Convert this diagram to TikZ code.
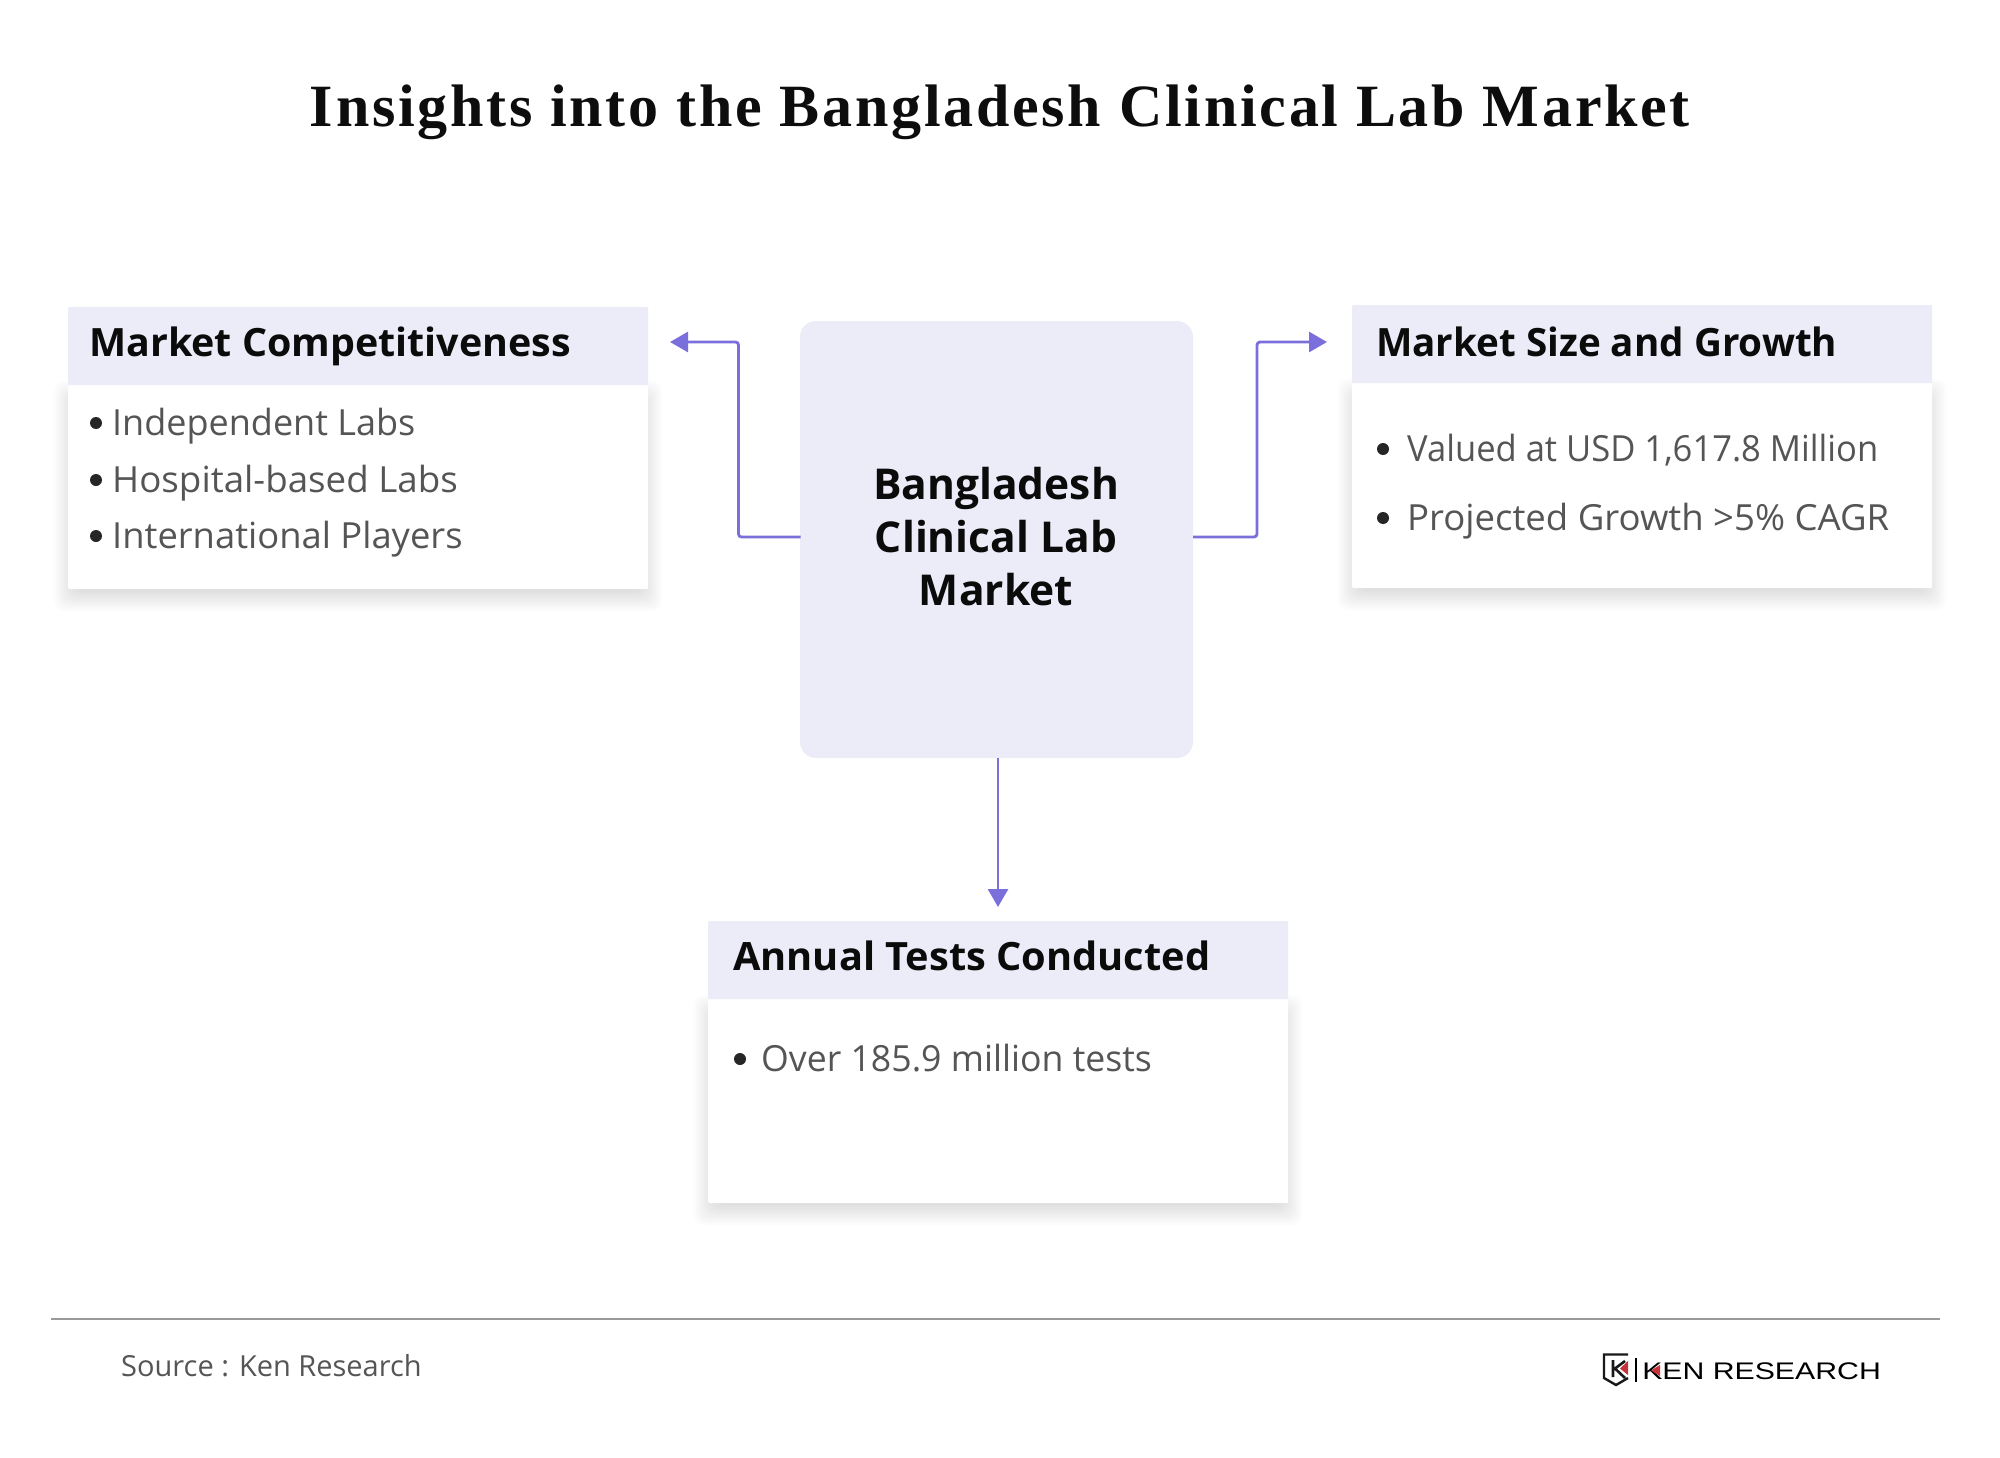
\documentclass[tikz,border=0pt]{standalone}
\usepackage{fontspec}
\setmainfont{Open Sans}
\newfontfamily\titlefont[LetterSpace=4.6]{Liberation Serif}
\newfontfamily\logofont{Liberation Sans}
\usetikzlibrary{arrows.meta}
\definecolor{lav}{HTML}{EBECF8}
\definecolor{arrowc}{HTML}{7B6FDB}
\definecolor{bodytxt}{HTML}{555555}
\definecolor{headtxt}{HTML}{0B0B0B}
\definecolor{rulec}{HTML}{9A9A9A}
\definecolor{kred}{HTML}{C8323A}
\newcommand{\softshadow}[4]{%
  \foreach \d in {-10,-8,...,14}{
    \fill[black,opacity=0.010,rounded corners=10pt]
      ({#1-\d},{#2+10-\d}) rectangle ({#3+\d},{#4+8+\d});
  }}
\tikzset{
  x=1pt,y=-1pt,
  card/.style={fill=white,draw=none,inner sep=0pt,minimum width=580pt,anchor=north west,rounded corners=2pt},
  head/.style={fill=lav,draw=none,inner sep=0pt,minimum width=580pt,minimum height=78pt,anchor=north west,rounded corners=1pt},
  headlabel/.style={anchor=base west,inner sep=0pt,text=headtxt,font=\fontsize{39}{48}\selectfont\bfseries},
  item/.style={anchor=base west,inner sep=0pt,text=bodytxt,font=\fontsize{36}{42}\selectfont},
  centerlabel/.style={anchor=base,inner sep=0pt,text=headtxt,font=\fontsize{42.5}{53}\selectfont\bfseries},
  dotm/.style={circle,fill=black!85,draw=none,inner sep=0pt,minimum size=12pt},
  conn/.style={draw=arrowc,line width=2.8pt,rounded corners=3pt,-{Triangle[length=18pt,width=20pt]}},
}
\begin{document}
\begin{tikzpicture}
\useasboundingbox (0,0) rectangle (2000,1458);
\fill[white] (0,0) rectangle (2000,1458);
\node[anchor=base,inner sep=0pt,text=black!95,font=\fontsize{60}{70}\selectfont\titlefont\bfseries,name=title] at (1000,127) {Insights into the Bangladesh Clinical Lab Market};

% shadows
\softshadow{68}{385}{648}{589}
\softshadow{1352}{383}{1932}{588}
\softshadow{708}{999}{1288}{1203}

% centre
\node[fill=lav,rounded corners=16pt,inner sep=0pt,minimum width=393pt,minimum height=437pt] (center) at (996.5,539.5) {};
\node[centerlabel] (c1) at (996,499) {Bangladesh};
\node[centerlabel] (c2) at (996,552) {Clinical Lab};
\node[centerlabel] (c3) at (996,605) {Market};

% left card
\node[card,minimum height=204pt] (lbody) at (68,385) {};
\node[head] (lhead) at (68,307) {};
\node[headlabel,xscale=1.01] (lt) at (89,356) {Market Competitiveness};
\node[dotm] (ld1) at (96,423) {};
\node[item] (li1) at (112,435) {Independent Labs};
\node[dotm] (ld2) at (96,480) {};
\node[item,xscale=1.02] (li2) at (112,492) {Hospital-based Labs};
\node[dotm] (ld3) at (96,536) {};
\node[item,xscale=1.01] (li3) at (112,548) {International Players};

% right card
\node[card,minimum height=205pt] (rbody) at (1352,383) {};
\node[head] (rhead) at (1352,305) {};
\node[headlabel,xscale=0.99] (rt) at (1376,356) {Market Size and Growth};
\node[dotm] (rd1) at (1383,449) {};
\node[item,xscale=0.96] (ri1) at (1407,461) {Valued at USD 1,617.8 Million};
\node[dotm] (rd2) at (1383,518) {};
\node[item,xscale=1.015] (ri2) at (1407,530) {Projected Growth >5\% CAGR};

% bottom card
\node[card,minimum height=204pt] (bbody) at (708,999) {};
\node[head] (bhead) at (708,921) {};
\node[headlabel,xscale=1.02] (bt) at (733,970) {Annual Tests Conducted};
\node[dotm] (bd1) at (740,1059) {};
\node[item,xscale=0.99] (bi1) at (761,1071) {Over 185.9 million tests};

% connectors
\coordinate (tipL) at (670,342);
\coordinate (tipR) at (1327,342);
\coordinate (tipB) at (998,907);
\coordinate (startL) at (800.5,537);
\coordinate (startR) at (1193,537);
\draw[conn] (startL) -- (738.5,537) -- (738.5,342) -- (tipL);
\draw[conn] (startR) -- (1257,537) -- (1257,342) -- (tipR);
\draw[conn] (center.south -| tipB) -- (tipB);

% footer
\coordinate (ruleA) at (51,1319);
\coordinate (ruleB) at (1940,1319);
\draw[rulec,line width=2.2pt] (ruleA) -- (ruleB);
\node[anchor=base west,inner sep=0pt,text=bodytxt,font=\fontsize{29}{34}\selectfont] (src) at (121,1376) {Source : Ken Research};

% logo
\draw[black!90,line width=2.4pt,line join=miter] (1628,1354.5) -- (1604,1354.5) -- (1604,1378) -- (1616,1385) -- (1628,1378);
\draw[black!90,line width=2.6pt] (1613,1360) -- (1613,1377) (1625,1361) -- (1615,1368.5) -- (1625,1378);
\fill[kred] (1628,1361) -- (1628,1375) -- (1620,1368.5) -- cycle;
\draw[black,line width=1.2pt] (1636,1358) -- (1636,1382);
\node[anchor=base west,inner sep=0pt,text=black,font=\fontsize{24}{28}\selectfont\logofont,xscale=1.26] (logo) at (1642,1379) {KEN RESEARCH};
\fill[kred] (1660,1365) -- (1660,1376) -- (1651,1370.5) -- cycle;
\end{tikzpicture}
\end{document}
